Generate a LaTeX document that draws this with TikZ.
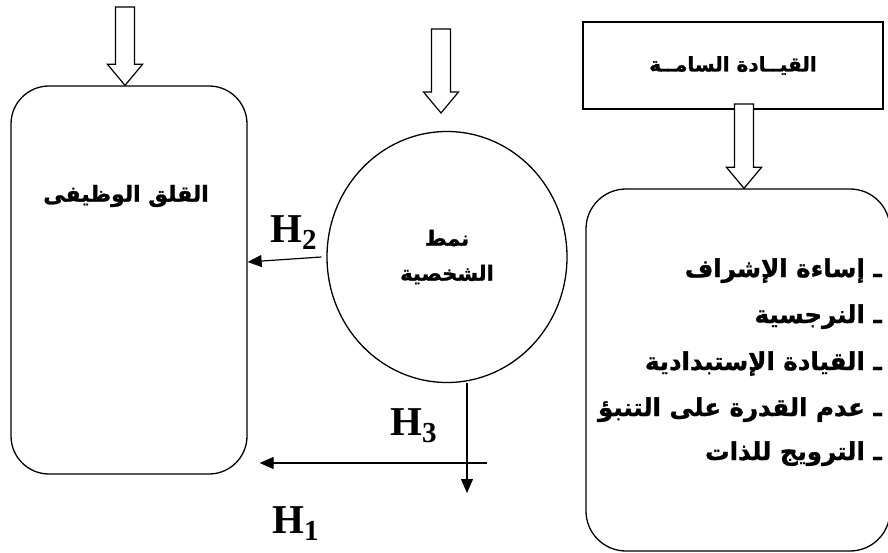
\documentclass[tikz,border=0pt]{standalone}
\usepackage{fontspec}
\usetikzlibrary{shapes.geometric,arrows.meta,calc}
\TeXXeTstate=1
\setmainfont{Liberation Serif}
\newfontfamily\arabicfont[Script=Arabic, BoldFont={DejaVu Sans Bold}, BoldFeatures={FakeBold=1.2}]{DejaVu Sans}
\newcommand\myblockarrow[2]{%
  \draw[blk] let \p1=(#1), \p2=(#2) in
    (\x2-9.5pt,\y1) -- (\x2+9.5pt,\y1) -- (\x2+9.5pt,\y2+21pt) --
    (\x2+17.5pt,\y2+21pt) -- (\x2,\y2) -- (\x2-17.5pt,\y2+21pt) --
    (\x2-9.5pt,\y2+21pt) -- cycle;}
\newcommand\hsub[1]{\raisebox{-7pt}{\fontsize{29}{29}\selectfont #1}}
\begin{document}
\begin{tikzpicture}[x=1pt,y=-1pt,
  box/.style={draw, line width=1.3pt},
  blk/.style={draw, line width=1.2pt, fill=white},
  artext/.style={font=\arabicfont\bfseries\fontsize{21}{35}\selectfont},
  listtext/.style={font=\arabicfont\bfseries\fontsize{24.5}{30}\selectfont, anchor=base east, inner sep=0},
  conn/.style={line width=1.2pt, -{Triangle[length=14pt,width=12pt]}},
  hlab/.style={font=\bfseries\fontsize{41}{41}\selectfont, inner sep=0, anchor=base west}]
\useasboundingbox (0,0) rectangle (888,553);

% boxes
\node[box, rounded corners=38pt, minimum width=236pt, minimum height=388pt, inner sep=0] (anx) at (129,280) {};
\node[font=\arabicfont\bfseries\fontsize{22}{26}\selectfont] (anxt) at (126,196) {\beginR القلق الوظيفى\endR};

\node[box, ellipse, minimum width=240pt, minimum height=251pt, inner sep=0, align=center, artext] (pers) at (447,257)
  {\beginR نمط\endR\\\beginR الشخصية\endR};

\node[box, minimum width=300pt, minimum height=87pt, font=\arabicfont\bfseries\fontsize{20}{24}\selectfont] (lead) at (733,65.5) {\beginR القيــادة السامــة\endR};

\node[box, rounded corners=40pt, minimum width=304pt, minimum height=362pt, inner sep=0] (beh) at (738,370) {};
\node[listtext] (b1) at (882,277) {\beginR ـ إساءة الإشراف\endR};
\node[listtext] (b2) at (882,323) {\beginR ـ النرجسية\endR};
\node[listtext] (b3) at (882,370) {\beginR ـ القيادة الإستبدادية\endR};
\node[listtext] (b4) at (882,416) {\beginR ـ عدم القدرة على التنبؤ\endR};
\node[listtext] (b5) at (882,460) {\beginR ـ الترويج للذات\endR};

% block arrows
\coordinate (a1s) at (125,7);
\coordinate (a2s) at (441,29);
\coordinate (a2e) at (441,113);
\coordinate (a3s) at (744,104);
\myblockarrow{a1s}{a1s |- anx.north}
\myblockarrow{a2s}{a2e}
\myblockarrow{a3s}{a3s |- beh.north}

% connectors
\coordinate (h1s) at (487,463);
\coordinate (h3e) at (467,493);
\draw[conn] ([xshift=-5pt]pers.west) -- (anx.east |- 0,262);
\draw[conn, shorten >=12pt] (h1s) -- (h1s -| anx.east);
\draw[conn] (h3e |- pers.south) -- (h3e);

% labels
\node[hlab] (h2l) at (270,243) {H\hsub{2}};
\node[hlab] (h3l) at (390,435) {H\hsub{3}};
\node[hlab] (h1l) at (272,533) {H\hsub{1}};
\end{tikzpicture}
\end{document}
